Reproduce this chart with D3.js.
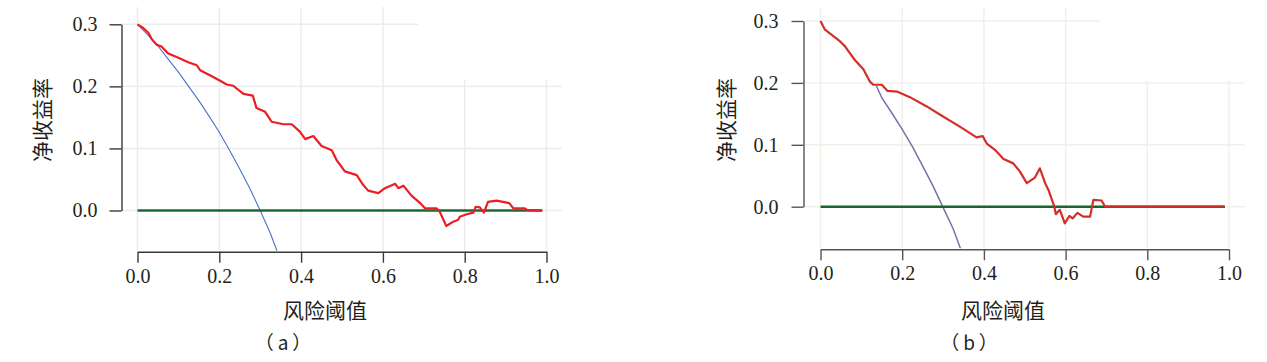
<!DOCTYPE html>
<html>
<head>
<meta charset="utf-8">
<script src="https://cdn.jsdelivr.net/npm/d3@7"></script>
<style>
  html, body { margin: 0; padding: 0; background: #fff; }
  svg { display: block; }
  .num { font-family: "Times New Roman", "Liberation Serif", Tinos, serif; font-size: 20px; }
  .cjk { font-family: "Noto Sans CJK SC", "Noto Sans", sans-serif; }
</style>
</head>
<body>
<svg id="chart" width="1267" height="362"></svg>
<script>
// ---- data ----
const xTicks = [0, 0.2, 0.4, 0.6, 0.8, 1.0];
const yTicks = [0, 0.1, 0.2, 0.3];
const xTitle = '风险阈值';
const yTitle = '净收益率';
const panelTags = ['（a）', '（b）'];

// treat-all reference line
const treatAllThresholdA = [0, 0.025, 0.05, 0.075, 0.1, 0.125, 0.15, 0.175, 0.2, 0.225, 0.25, 0.275, 0.3, 0.325, 0.345];
const treatAllA = [0.300, 0.283, 0.265, 0.244, 0.223, 0.200, 0.177, 0.152, 0.126, 0.097, 0.067, 0.035, 0.000, -0.037, -0.072];
const treatAllThresholdB = [0.137, 0.15, 0.175, 0.2, 0.225, 0.25, 0.275, 0.3, 0.325, 0.345];
const treatAllB = [0.195, 0.176, 0.151, 0.125, 0.097, 0.066, 0.034, -0.001, -0.036, -0.072];

// treat-none line
const treatNoneThreshold = [0, 0.99];
const treatNone = [0, 0];

// model (a)
const modelThresholdA = [0, 0.014, 0.027, 0.035, 0.047, 0.059, 0.075, 0.1, 0.124, 0.145, 0.153, 0.177, 0.202, 0.218, 0.234,
  0.259, 0.282, 0.291, 0.312, 0.328, 0.357, 0.377, 0.397, 0.41, 0.43, 0.45, 0.475, 0.487, 0.507, 0.536, 0.552, 0.564,
  0.589, 0.605, 0.63, 0.638, 0.65, 0.67, 0.691, 0.703, 0.731, 0.739, 0.755, 0.772, 0.784, 0.788, 0.805, 0.821, 0.827,
  0.837, 0.847, 0.857, 0.878, 0.909, 0.919, 0.947, 0.952, 0.988];
const modelA = [0.300, 0.294, 0.286, 0.276, 0.267, 0.264, 0.253, 0.246, 0.239, 0.234, 0.226, 0.218, 0.209, 0.203, 0.201,
  0.188, 0.185, 0.165, 0.159, 0.143, 0.139, 0.139, 0.127, 0.115, 0.120, 0.104, 0.097, 0.081, 0.063, 0.057, 0.041, 0.032,
  0.028, 0.036, 0.043, 0.036, 0.040, 0.024, 0.012, 0.0035, 0.0035, -0.002, -0.025, -0.018, -0.015, -0.010, -0.006, -0.0035, 0.006,
  0.005, -0.0035, 0.014, 0.016, 0.012, 0.0035, 0.0035, 0.001, 0];

// model (b)
const modelThresholdB = [0, 0.011, 0.048, 0.06, 0.084, 0.105, 0.121, 0.129, 0.15, 0.164, 0.187, 0.219, 0.26, 0.297,
  0.342, 0.382, 0.397, 0.407, 0.427, 0.448, 0.472, 0.488, 0.505, 0.525, 0.537, 0.550, 0.558, 0.572, 0.576, 0.586,
  0.598, 0.609, 0.617, 0.629, 0.643, 0.660, 0.668, 0.688, 0.697, 0.988];
const modelB = [0.300, 0.286, 0.267, 0.259, 0.237, 0.222, 0.202, 0.197, 0.197, 0.187, 0.186, 0.177, 0.162, 0.147,
  0.129, 0.112, 0.114, 0.102, 0.092, 0.077, 0.070, 0.057, 0.038, 0.047, 0.062, 0.038, 0.027, 0.001, -0.012, -0.005,
  -0.027, -0.015, -0.019, -0.010, -0.016, -0.016, 0.011, 0.010, 0, 0];

// ---- layout / style per panel ----
const panels = [
  {
    x0: 137.5, x1: 546.5, yZero: 210.5, yTop: 24.3, axisY: 251.7, axisX: 121.5,
    gridLeft: 122, gridRight: 562, gridTop: 7, gridBottom: 250,
    cover: [418, 0, 160, 80],
    gridColor: '#ebebeb', axisColor: '#3a3a3a',
    allColor: '#4a72c6', allWidth: 1.1, modelColor: '#ee1d23', noneColor: '#1d6a36',
    yPad: 12, yTitleX: 43, xTitleX: 325, tagX: 285,
    allX: treatAllThresholdA, all: treatAllA, modelX: modelThresholdA, model: modelA
  },
  {
    x0: 820.5, x1: 1229, yZero: 206.7, yTop: 21, axisY: 249.3, axisX: 803.5,
    gridLeft: 805, gridRight: 1245, gridTop: 7, gridBottom: 248,
    cover: [1100, 0, 167, 81],
    gridColor: '#f2efe9', axisColor: '#555555',
    allColor: '#6f76a6', allWidth: 1.5, modelColor: '#d22f28', noneColor: '#17672c',
    yPad: 13, yTitleX: 727, xTitleX: 1003, tagX: 971,
    allX: treatAllThresholdB, all: treatAllB, modelX: modelThresholdB, model: modelB
  }
];

const svg = d3.select('#chart');
const textColor = '#231f20';

panels.forEach((p, i) => {
  const x = d3.scaleLinear().domain([0, 1]).range([p.x0, p.x1]);
  const y = d3.scaleLinear().domain([0, 0.3]).range([p.yZero, p.yTop]);
  const g = svg.append('g').attr('class', 'panel' + i);

  // grid
  g.append('g').selectAll('line').data(xTicks).join('line')
    .attr('x1', d => x(d)).attr('x2', d => x(d))
    .attr('y1', p.gridTop).attr('y2', p.gridBottom)
    .attr('stroke', p.gridColor).attr('stroke-width', 1.4);
  g.append('g').selectAll('line').data(yTicks).join('line')
    .attr('x1', p.gridLeft).attr('x2', p.gridRight)
    .attr('y1', d => y(d)).attr('y2', d => y(d))
    .attr('stroke', p.gridColor).attr('stroke-width', 1.4);

  // blank patch where the legend used to sit
  g.append('rect')
    .attr('x', p.cover[0]).attr('y', p.cover[1])
    .attr('width', p.cover[2]).attr('height', p.cover[3])
    .attr('fill', '#fff');

  // clip curves at the x axis
  const clipId = 'clip' + i;
  svg.append('clipPath').attr('id', clipId)
    .append('rect')
    .attr('x', p.gridLeft).attr('y', 0)
    .attr('width', p.gridRight - p.gridLeft).attr('height', p.axisY - 1);

  const lines = g.append('g').attr('clip-path', 'url(#' + clipId + ')');
  const line = d3.line().x(d => x(d[0])).y(d => y(d[1]));

  lines.append('path')
    .datum(p.allX.map((t, k) => [t, p.all[k]]))
    .attr('fill', 'none').attr('stroke', p.allColor).attr('stroke-width', p.allWidth)
    .attr('d', line);

  lines.append('path')
    .datum(treatNoneThreshold.map((t, k) => [t, treatNone[k]]))
    .attr('fill', 'none').attr('stroke', p.noneColor).attr('stroke-width', 2.6)
    .attr('d', line);

  lines.append('path')
    .datum(p.modelX.map((t, k) => [t, p.model[k]]))
    .attr('fill', 'none').attr('stroke', p.modelColor).attr('stroke-width', 2.2)
    .attr('stroke-linejoin', 'round')
    .attr('d', line);

  // axes
  const xAxis = d3.axisBottom(x).tickValues(xTicks).tickSize(11).tickSizeOuter(0)
    .tickPadding(6).tickFormat(d3.format('.1f'));
  const xg = g.append('g').attr('transform', 'translate(0,' + p.axisY + ')').call(xAxis);

  const yAxis = d3.axisLeft(y).tickValues(yTicks).tickSize(12).tickSizeOuter(0)
    .tickPadding(p.yPad).tickFormat(d3.format('.1f'));
  const yg = g.append('g').attr('transform', 'translate(' + p.axisX + ',0)').call(yAxis);

  [xg, yg].forEach(a => {
    a.attr('font-family', null).attr('font-size', null);
    a.select('.domain').attr('stroke', p.axisColor).attr('stroke-width', 1.4);
    a.selectAll('.tick line').attr('stroke', p.axisColor).attr('stroke-width', 1.4);
    a.selectAll('.tick text').attr('class', 'num').attr('fill', textColor);
  });

  // titles
  g.append('text').attr('class', 'cjk')
    .attr('transform', 'translate(' + p.yTitleX + ',120) rotate(-90)')
    .attr('text-anchor', 'middle').attr('dy', '0.35em')
    .style('font-size', '21px')
    .attr('fill', textColor).text(yTitle);

  g.append('text').attr('class', 'cjk')
    .attr('x', p.xTitleX).attr('y', 311).attr('dy', '0.35em')
    .attr('text-anchor', 'middle')
    .style('font-size', '21px')
    .attr('fill', textColor).text(xTitle);

  g.append('text').attr('class', 'cjk')
    .attr('x', p.tagX).attr('y', 343).attr('dy', '0.35em')
    .attr('text-anchor', 'middle')
    .style('font-size', '19px')
    .style('letter-spacing', '4px')
    .attr('fill', textColor).text(panelTags[i]);
});
</script>
</body>
</html>
